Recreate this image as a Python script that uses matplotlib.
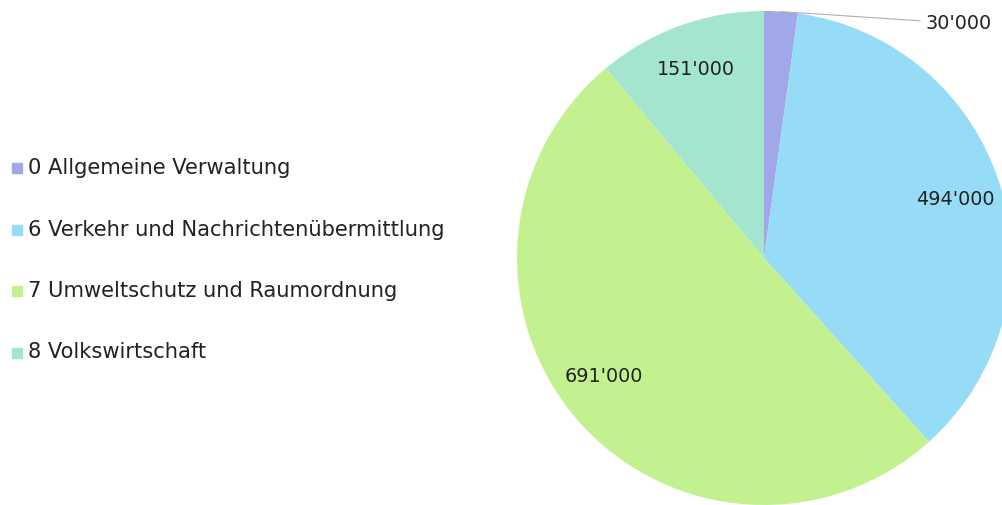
import numpy as np
import matplotlib.pyplot as plt
from matplotlib.patches import Rectangle

plt.rcParams['font.family'] = ['DejaVu Sans']

# data
categories = ['0 Allgemeine Verwaltung',
              '6 Verkehr und Nachrichtenübermittlung',
              '7 Umweltschutz und Raumordnung',
              '8 Volkswirtschaft']
values = [30000, 494000, 691000, 151000]
colors = ['#a0a8e7', '#97dcf7', '#c3f18f', '#a3e5cf']

W, H = 1003, 505
fig = plt.figure(figsize=(W / 100, H / 100), dpi=100)

# pie axes: centre (764, 258), radius 247 px
cx, cy, R = 764, 258, 247
ax = fig.add_axes([(cx - R) / W, (H - cy - R) / H, 2 * R / W, 2 * R / H])
labels = [f"{v:,}".replace(",", "'") for v in values]
wedges, texts = ax.pie(values, colors=colors, startangle=90, counterclock=False,
                       labels=labels, labeldistance=0.81,
                       wedgeprops=dict(linewidth=0),
                       textprops=dict(fontsize=13.8, color='#222222'))
for t in texts:
    t.set_ha('center')
    t.set_va('center')
# big slice label sits a little lower-left in the original
texts[2].set_position((-0.65, -0.48))

# smallest slice gets its label outside with a leader line
w0 = wedges[0]
mid = np.deg2rad((w0.theta1 + w0.theta2) / 2)
texts[0].set_visible(False)
ax.annotate(labels[0], xy=(np.cos(mid), np.sin(mid)), xytext=(0.655, 0.95),
            ha='left', va='center', fontsize=13.8, color='#222222',
            arrowprops=dict(arrowstyle='-', color='#b0b0b0', lw=0.8,
                            shrinkA=2, shrinkB=0))
ax.set_xlim(-1, 1)
ax.set_ylim(-1, 1)
ax.set_aspect('equal')
ax.axis('off')

# legend drawn by hand
for i, (name, c) in enumerate(zip(categories, colors)):
    y = 168 + i * 61.5
    fig.patches.append(Rectangle((12 / W, 1 - (y + 5) / H), 10 / W, 10 / H,
                                 transform=fig.transFigure, color=c))
    fig.text(28 / W, 1 - y / H, name, fontsize=15.1, color='#222222',
             ha='left', va='center')

fig.savefig('out.png', dpi=100)
